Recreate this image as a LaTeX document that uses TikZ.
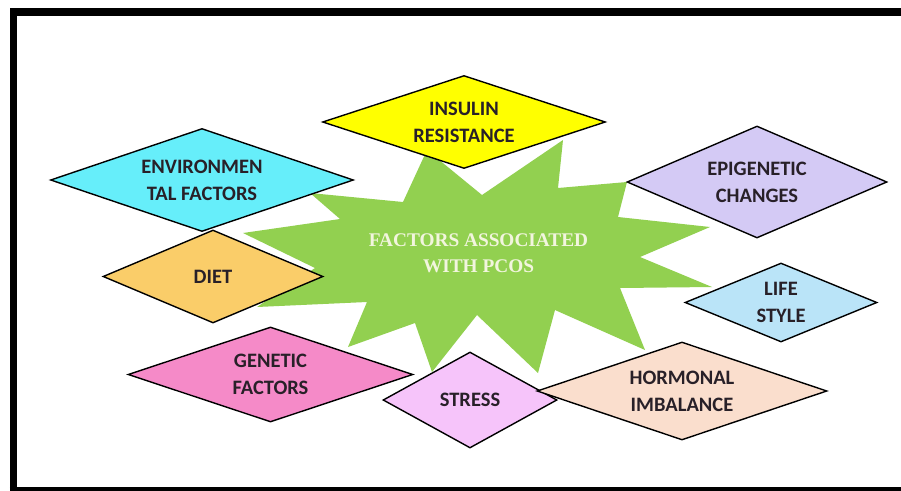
\documentclass[tikz,border=0pt]{standalone}
\usepackage{fontspec}
\setmainfont{Carlito}
\newfontfamily\starfont{Liberation Serif}
\usetikzlibrary{shapes.geometric}
\definecolor{stargreen}{RGB}{146,208,80}
\definecolor{envc}{RGB}{102,238,250}
\definecolor{dietc}{RGB}{250,205,105}
\definecolor{insc}{RGB}{255,255,0}
\definecolor{epic}{RGB}{212,202,245}
\definecolor{lifec}{RGB}{186,228,248}
\definecolor{genc}{RGB}{245,138,200}
\definecolor{strc}{RGB}{246,196,250}
\definecolor{horc}{RGB}{250,222,205}
\definecolor{txtc}{RGB}{40,32,40}
\definecolor{startxt}{RGB}{242,245,222}
\tikzset{
  dia/.style={shape=diamond, draw=black, line width=1.4pt, inner sep=0pt, line join=miter},
  lab/.style={align=center, text=txtc, font=\fontsize{20.5}{27}\selectfont\bfseries, inner sep=0pt},
  startext/.style={align=center, text=startxt, font=\starfont\bfseries\fontsize{19.3}{26}\selectfont, inner sep=0pt}
}
\begin{document}
\begin{tikzpicture}[x=1pt,y=-1pt]
\useasboundingbox (0,0) rectangle (901,490);
\clip (0,0) rectangle (901,490);
\fill[white] (0,0) rectangle (901,490);
% frame
\draw[line width=7.5pt] (13.5,12) -- (930,12);
\draw[line width=7.5pt] (13.5,8.25) -- (13.5,494);
\draw[line width=7.5pt] (9.75,490.75) -- (930,490.75);
% star
\fill[stargreen] (427,150) -- (482,195) -- (563,140) -- (558,188) -- (627,182) -- (618,217)
  -- (710,227) -- (640,257) -- (712,287) -- (620,288) -- (645,350) -- (555,310)
  -- (538,373) -- (477,315) -- (432,372) -- (415,323) -- (348,347) -- (367,302)
  -- (257,307) -- (315,268) -- (243,233) -- (340,219) -- (310,193) -- (403,202) -- cycle;
\node[startext] (center) at (478.5,253) {FACTORS ASSOCIATED\\WITH PCOS};
% diamonds
\node[dia, fill=envc, minimum width=303pt, minimum height=103pt] (env) at (202,180) {};
\node[lab] (envt) at (env.center) {ENVIRONMEN\\TAL FACTORS};
\node[dia, fill=dietc, minimum width=220pt, minimum height=93pt] (diet) at (213,276.5) {};
\node[lab] (dietl) at (diet.center) {DIET};
\node[dia, fill=insc, minimum width=283pt, minimum height=93pt] (ins) at (464,122) {};
\node[lab] (inst) at (ins.center) {INSULIN\\RESISTANCE};
\node[dia, fill=epic, minimum width=260pt, minimum height=112pt] (epi) at (757,182) {};
\node[lab] (epit) at (epi.center) {EPIGENETIC\\CHANGES};
\node[dia, fill=lifec, minimum width=192pt, minimum height=79pt] (life) at (781,302.5) {};
\node[lab] (lifet) at (life.center) {LIFE\\STYLE};
\node[dia, fill=genc, minimum width=285pt, minimum height=95pt] (gen) at (270.5,374.5) {};
\node[lab] (gent) at (gen.center) {GENETIC\\FACTORS};
\node[dia, fill=strc, minimum width=174pt, minimum height=96pt] (str) at (470,400) {};
\node[lab] (strt) at (str.center) {STRESS};
\node[dia, fill=horc, minimum width=290pt, minimum height=98pt] (hor) at (682,391) {};
\node[lab] (hort) at (hor.center) {HORMONAL\\IMBALANCE};
\end{tikzpicture}
\end{document}
